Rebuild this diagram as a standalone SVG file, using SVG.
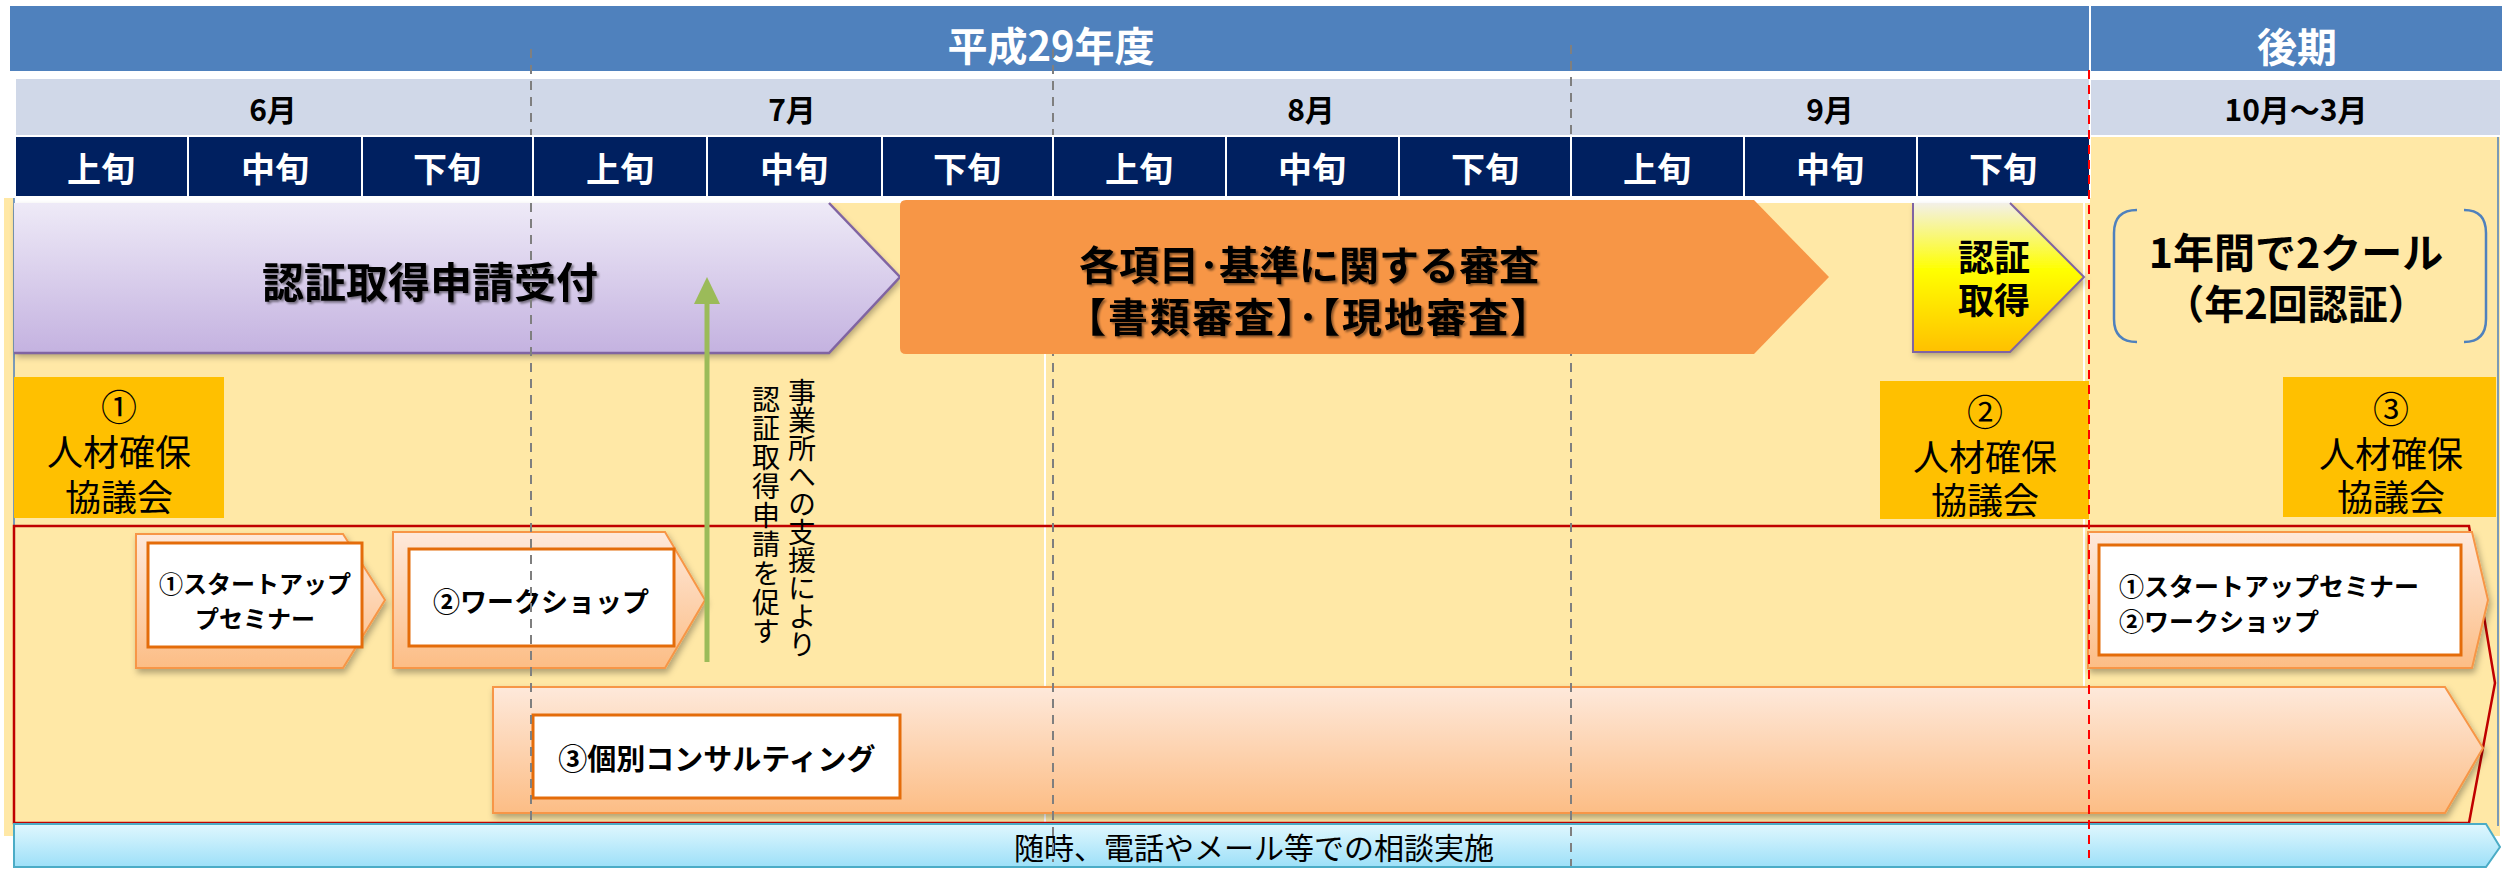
<svg xmlns="http://www.w3.org/2000/svg" width="2513" height="869" viewBox="0 0 2513 869">
<defs>
<style>
text{font-family:"Noto Sans CJK JP","Noto Sans",sans-serif;dominant-baseline:central;text-anchor:middle}
.b{font-weight:bold}
.w{fill:#FFFFFF}
.k{fill:#000000}
.hdr{fill:#4F81BD}
.mon{fill:#D0D8E8}
.navy{fill:#002060}
.jun{font-size:34px;font-weight:bold;fill:#FFFFFF}
.mt{font-size:30px;font-weight:bold;fill:#000000}
.gold{fill:#FFC000}
.kyo{font-size:36px;fill:#000000}
.chev{fill:url(#gOr);stroke:#F79646;stroke-width:2;filter:url(#sh)}
.inner{fill:#FFFFFF;stroke:#E46C0A;stroke-width:3}
.ct{font-weight:bold;fill:#000000}
.grid{stroke:#7F7F7F;stroke-width:2;stroke-dasharray:9 7;fill:none}
.vt{font-size:28px;fill:#000000;writing-mode:vertical-rl;text-anchor:start;dominant-baseline:auto}
</style>
<linearGradient id="gPu" x1="0" y1="0" x2="0" y2="1"><stop offset="0" stop-color="#EEEAF7"/><stop offset="1" stop-color="#C4B2E0"/></linearGradient>
<linearGradient id="gOr" x1="0" y1="0" x2="0" y2="1"><stop offset="0" stop-color="#FEE9DB"/><stop offset="1" stop-color="#FCBD85"/></linearGradient>
<linearGradient id="gYe" x1="0" y1="0" x2="0" y2="1"><stop offset="0" stop-color="#F3F0E8"/><stop offset="0.45" stop-color="#FFFF00"/><stop offset="1" stop-color="#FFC000"/></linearGradient>
<linearGradient id="gBl" x1="0" y1="0" x2="0" y2="1"><stop offset="0" stop-color="#E0F7FE"/><stop offset="1" stop-color="#9DE0F8"/></linearGradient>
<filter id="sh" x="-5%" y="-10%" width="110%" height="130%"><feDropShadow dx="2" dy="4" stdDeviation="3" flood-color="#000" flood-opacity="0.3"/></filter>
<filter id="ts" x="-5%" y="-20%" width="110%" height="140%"><feDropShadow dx="2" dy="2" stdDeviation="1.2" flood-color="#000" flood-opacity="0.45"/></filter>
</defs>

<g id="background">
<rect x="4" y="198" width="2496" height="638" fill="#FFE8A6"/>
<rect x="2091" y="137" width="409" height="70" fill="#FFE8A6"/>
<rect x="14" y="196" width="2076" height="7" fill="#FFFFFF"/>
<line x1="14" y1="198" x2="14" y2="826" stroke="#4F81BD" stroke-width="1.5"/>
<line x1="2498" y1="137" x2="2498" y2="826" stroke="#4F81BD" stroke-width="1.5"/>
<line x1="1045" y1="354" x2="1045" y2="826" stroke="#FFFFFF" stroke-width="2"/>
<line x1="2084" y1="200" x2="2084" y2="690" stroke="#FFFFFF" stroke-width="2"/>
</g>

<g id="header">
<rect class="hdr" x="10" y="6" width="2079" height="65"/>
<rect class="hdr" x="2091" y="6" width="411" height="65"/>
<text class="b w" x="1051" y="44" font-size="40">平成29年度</text>
<text class="b w" x="2297" y="45" font-size="40">後期</text>
<rect class="mon" x="16" y="79" width="2073" height="56"/>
<rect class="mon" x="2091" y="80" width="409" height="55"/>
<text class="mt" x="273" y="108">6月</text>
<text class="mt" x="792" y="108">7月</text>
<text class="mt" x="1311" y="108">8月</text>
<text class="mt" x="1830" y="108">9月</text>
<text class="mt" x="2296" y="108">10月～3月</text>
<rect class="navy" x="16" y="137" width="171" height="59"/>
<rect class="navy" x="189" y="137" width="172" height="59"/>
<rect class="navy" x="363" y="137" width="169" height="59"/>
<rect class="navy" x="534" y="137" width="172" height="59"/>
<rect class="navy" x="708" y="137" width="173" height="59"/>
<rect class="navy" x="883" y="137" width="169" height="59"/>
<rect class="navy" x="1054" y="137" width="171" height="59"/>
<rect class="navy" x="1227" y="137" width="171" height="59"/>
<rect class="navy" x="1400" y="137" width="170" height="59"/>
<rect class="navy" x="1572" y="137" width="171" height="59"/>
<rect class="navy" x="1745" y="137" width="171" height="59"/>
<rect class="navy" x="1918" y="137" width="171" height="59"/>
<text class="jun" x="101" y="167">上旬</text>
<text class="jun" x="275" y="167">中旬</text>
<text class="jun" x="447" y="167">下旬</text>
<text class="jun" x="620" y="167">上旬</text>
<text class="jun" x="794" y="167">中旬</text>
<text class="jun" x="967" y="167">下旬</text>
<text class="jun" x="1139" y="167">上旬</text>
<text class="jun" x="1312" y="167">中旬</text>
<text class="jun" x="1485" y="167">下旬</text>
<text class="jun" x="1657" y="167">上旬</text>
<text class="jun" x="1830" y="167">中旬</text>
<text class="jun" x="2003" y="167">下旬</text>
</g>

<g id="node-uketsuke">
<polygon points="14,203 829,203 900,277 829,353 14,353" fill="url(#gPu)" filter="url(#sh)"/>
<polyline points="829,203 900,277 829,353 14,353" fill="none" stroke="#8064A2" stroke-width="2.5"/>
<text class="b k" x="430" y="279" font-size="42" filter="url(#ts)">認証取得申請受付</text>
</g>

<g id="node-kyogikai1">
<rect class="gold" x="14" y="377" width="210" height="141"/>
<text class="kyo"><tspan x="119" y="405">①</tspan><tspan x="119" y="450">人材確保</tspan><tspan x="119" y="495">協議会</tspan></text>
</g>
<g id="node-kyogikai2">
<rect class="gold" x="1880" y="381" width="209" height="138"/>
<text class="kyo"><tspan x="1985" y="410">②</tspan><tspan x="1985" y="455">人材確保</tspan><tspan x="1985" y="498">協議会</tspan></text>
</g>
<g id="node-kyogikai3">
<rect class="gold" x="2283" y="377" width="213" height="140"/>
<text class="kyo"><tspan x="2391" y="407">③</tspan><tspan x="2391" y="452">人材確保</tspan><tspan x="2391" y="495">協議会</tspan></text>
</g>

<g id="node-support-frame">
<polygon points="14,526 2469,526 2495,683 2469,823 14,823" fill="none" stroke="#C00000" stroke-width="2.5"/>
</g>

<g id="node-seminar">
<polygon class="chev" points="136,534 343,534 385,600 343,668 136,668"/>
<rect class="inner" x="148" y="543" width="214" height="104"/>
<text class="ct" font-size="24"><tspan x="255" y="582">①スタートアップ</tspan><tspan x="255" y="617">プセミナー</tspan></text>
</g>

<g id="node-workshop">
<polygon class="chev" points="393,532 665,532 705,600 665,668 393,668"/>
<rect class="inner" x="409" y="549" width="265" height="97"/>
<text class="ct" x="541" y="600" font-size="27">②ワークショップ</text>
</g>

<g id="node-consulting">
<polygon class="chev" points="493,687 2445,687 2483,748 2445,813 493,813"/>
<rect class="inner" x="533" y="715" width="367" height="83"/>
<text class="ct" x="717" y="757" font-size="29">③個別コンサルティング</text>
</g>

<g id="node-kouki-seminar">
<polygon class="chev" points="2088,532 2472,532 2488,600 2472,668 2088,668"/>
<rect class="inner" x="2099" y="545" width="362" height="110"/>
<text class="ct" font-size="25" style="text-anchor:start"><tspan x="2119" y="585">①スタートアップセミナー</tspan><tspan x="2119" y="620">②ワークショップ</tspan></text>
</g>

<g id="node-soudan">
<polygon points="14,824 2486,824 2500,847 2486,867 14,867" fill="url(#gBl)" stroke="#4BACC6" stroke-width="2"/>
<text class="k" x="1254" y="846" font-size="30">随時、電話やメール等での相談実施</text>
</g>

<g id="gridlines">
<line class="grid" x1="531" y1="49" x2="531" y2="135"/>
<line class="grid" x1="531" y1="203" x2="531" y2="826"/>
<line class="grid" x1="1053" y1="49" x2="1053" y2="135"/>
<line class="grid" x1="1053" y1="203" x2="1053" y2="862"/>
<line class="grid" x1="1571" y1="45" x2="1571" y2="135"/>
<line class="grid" x1="1571" y1="203" x2="1571" y2="866"/>
<line x1="2089" y1="70" x2="2089" y2="858" stroke="#FF0000" stroke-width="2" stroke-dasharray="9 6"/>
</g>

<g id="node-shinsa">
<path d="M906,200 L1754,200 L1829,277 L1754,354 L906,354 Q900,354 900,348 L900,206 Q900,200 906,200 Z" fill="#F79646"/>
<text class="b k" font-size="40" filter="url(#ts)"><tspan x="1309" y="263">各項目･基準に関する審査</tspan><tspan x="1309" y="315" style="font-feature-settings:'halt';letter-spacing:2px">【書類審査】･【現地審査】</tspan></text>
</g>

<g id="node-ninsho">
<polygon points="1913,203 2010,203 2084,277 2010,352 1913,352" fill="url(#gYe)" filter="url(#sh)"/>
<polyline points="1913,203 1913,352 2010,352 2084,277 2010,203" fill="none" stroke="#8064A2" stroke-width="2"/>
<text class="b k" font-size="36"><tspan x="1994" y="255">認証</tspan><tspan x="1994" y="298">取得</tspan></text>
</g>

<g id="node-2cool">
<path d="M2137,210 Q2114,210 2114,233 L2114,319 Q2114,342 2137,342" fill="none" stroke="#4F81BD" stroke-width="2.5"/>
<path d="M2464,210 Q2486,210 2486,233 L2486,319 Q2486,342 2464,342" fill="none" stroke="#4F81BD" stroke-width="2.5"/>
<text class="b k" font-size="41"><tspan x="2296" y="250">1年間で2クール</tspan><tspan x="2296" y="302" font-size="40">（年2回認証）</tspan></text>
</g>

<g id="connectors">
<line x1="707" y1="662" x2="707" y2="300" stroke="#9BBB59" stroke-width="5"/>
<polygon points="694,304 707,277 720,304" fill="#9BBB59"/>
</g>

<g id="label-support">
<text class="vt"><tspan x="802" y="378">事業所への支援により</tspan><tspan x="766" y="385" style="letter-spacing:1px">認証取得申請を促す</tspan></text>
</g>
</svg>
